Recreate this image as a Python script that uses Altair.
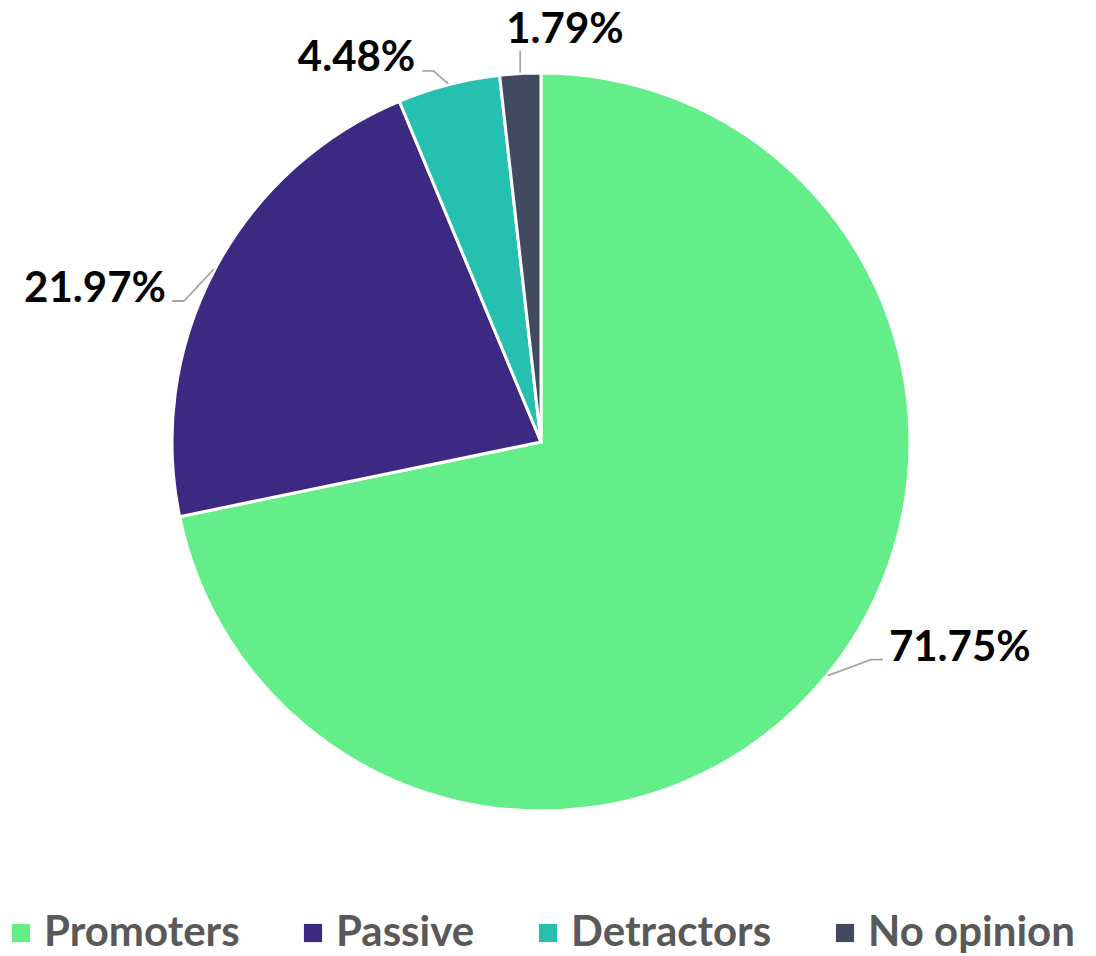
import math
import altair as alt
import pandas as pd

# ---- data ----
categories = ["Promoters", "Passive", "Detractors", "No opinion"]
shares = [71.75, 21.97, 4.48, 1.79]
labels = ["71.75%", "21.97%", "4.48%", "1.79%"]
colors = ["#63EE8A", "#3C2A82", "#26C0B0", "#414A5E"]

# ---- layout of leader lines / labels (pixels) ----
elbow_dx = [43, -30, -15, 0]
elbow_dy = [-16, 32, -13, -22]
tail_dx = [12, -12, -11, 0]
label_dx = [6, -6, -7, -14]
label_dy = [1, 1, 0, -8]
label_align = ["left", "right", "right", "left"]

W, H = 1080, 948
cx, cy, R = 533, 434, 369
FONT = "Lato"

total = sum(shares)
pie_rows, line_rows, text_rows = [], [], []
cum = 0.0
for i, (c, s, lab) in enumerate(zip(categories, shares, labels)):
    pie_rows.append({"category": c, "share": s, "idx": i})
    mid = (cum + s / 2) / total * 2 * math.pi
    cum += s
    ex = cx + (R + 1) * math.sin(mid)
    ey = cy - (R + 1) * math.cos(mid)
    bx, by = ex + elbow_dx[i], ey + elbow_dy[i]
    tx, ty = bx + tail_dx[i], by
    for p, (xx, yy) in enumerate([(ex, ey), (bx, by), (tx, ty)]):
        line_rows.append({"category": c, "pt": p, "x": xx, "y": yy})
    text_rows.append({"category": c, "label": lab, "x": tx + label_dx[i],
                      "y": ty + label_dy[i], "align": label_align[i]})

pie_df = pd.DataFrame(pie_rows)
line_df = pd.DataFrame(line_rows)
text_df = pd.DataFrame(text_rows)

arc = alt.Chart(pie_df).mark_arc(outerRadius=R, stroke="white", strokeWidth=3).encode(
    theta=alt.Theta("share:Q", stack=True),
    order=alt.Order("idx:Q"),
    x=alt.value(cx),
    y=alt.value(cy),
    color=alt.Color(
        "category:N",
        scale=alt.Scale(domain=categories, range=colors),
        legend=alt.Legend(
            title=None,
            orient="none",
            legendX=-8,
            legendY=904,
            direction="horizontal",
            symbolType="square",
            symbolSize=330,
            symbolStrokeWidth=0,
            labelFont=FONT,
            labelFontSize=42,
            labelFontWeight="bold",
            labelColor="#595959",
            labelOffset=2,
            columnPadding=52,
            labelLimit=0,
            padding=0,
        ),
    ),
)

lines = alt.Chart(line_df).mark_line(color="#A6A6A6", strokeWidth=1.8).encode(
    x=alt.X("x:Q", scale=None, axis=None),
    y=alt.Y("y:Q", scale=None, axis=None),
    detail="category:N",
    order="pt:Q",
)

def text_layer(al):
    return alt.Chart(text_df).transform_filter(
        alt.datum.align == al
    ).mark_text(
        font=FONT, fontSize=42, fontWeight="bold", color="#000000",
        align=al, baseline="alphabetic"
    ).encode(
        x=alt.X("x:Q", scale=None, axis=None),
        y=alt.Y("y:Q", scale=None, axis=None),
        text="label:N",
    )

chart = alt.layer(arc, lines, text_layer("left"), text_layer("right")).properties(
    width=W, height=H, padding=0, autosize=alt.AutoSizeParams(type="none")
).configure_view(stroke=None)

chart.save("out.html", embed_options={"renderer": "svg", "actions": False})
